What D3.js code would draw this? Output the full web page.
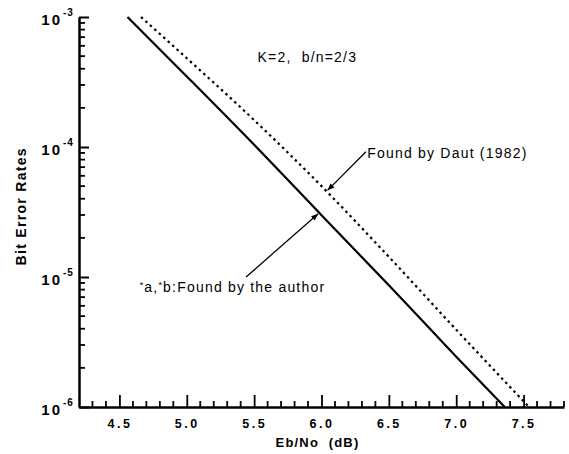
<!DOCTYPE html>
<html>
<head>
<meta charset="utf-8">
<script src="https://cdn.jsdelivr.net/npm/d3@7"></script>
<style>
  body { margin: 0; background: #fff; }
  text { font-family: "Liberation Sans", Arial, sans-serif; fill: #000; }
</style>
</head>
<body>
<div id="chart"></div>
<script>
// Data
var authorEbNo = [4.56, 5.0, 5.5, 6.0, 6.5, 7.0, 7.36];
var authorBER  = [1.0e-3, 3.49e-4, 1.04e-4, 2.99e-5, 8.63e-6, 2.44e-6, 1.0e-6];
var dautEbNo = [4.66, 5.0, 5.5, 6.0, 6.5, 7.0, 7.54];
var dautBER  = [1.0e-3, 4.82e-4, 1.61e-4, 5.0e-5, 1.43e-5, 3.93e-6, 1.0e-6];
var xMajorTicks = [4.5, 5.0, 5.5, 6.0, 6.5, 7.0, 7.5];
var xMinorTicks = [4.3, 4.4, 4.6, 4.7, 4.8, 4.9, 5.1, 5.2, 5.3, 5.4, 5.6, 5.7, 5.8, 5.9,
                   6.1, 6.2, 6.3, 6.4, 6.6, 6.7, 6.8, 6.9, 7.1, 7.2, 7.3, 7.4, 7.6, 7.7, 7.8];
var yDecades = [1e-3, 1e-4, 1e-5, 1e-6];
var yExponents = ["-3", "-4", "-5", "-6"];
var yMantissas = [2, 3, 4, 5, 6, 7, 8, 9];

var svgWidth = 569;
var svgHeight = 454;
var margin = { top: 17, right: 5, bottom: 47, left: 79 };
var width = svgWidth - margin.left - margin.right;
var height = svgHeight - margin.top - margin.bottom;

var svg = d3.select("#chart")
    .append("svg")
    .attr("width", svgWidth)
    .attr("height", svgHeight);

var chartGroup = svg.append("g")
    .attr("transform", `translate(${margin.left}, ${margin.top})`);

// scales
var xScale = d3.scaleLinear().domain([4.2, 7.8]).range([0, width]);
var yScale = d3.scaleLog().domain([1e-6, 1e-3]).range([height, 0]);

// minor x ticks (pointing up into the plot)
chartGroup.append("g").selectAll("line")
    .data(xMinorTicks)
    .enter()
    .append("line")
    .attr("x1", d => xScale(d))
    .attr("x2", d => xScale(d))
    .attr("y1", height)
    .attr("y2", height - 6)
    .attr("stroke", "black")
    .attr("stroke-width", 1.8);

var xAxis = chartGroup.append("g")
    .attr("transform", `translate(0, ${height})`)
    .call(d3.axisBottom(xScale).tickValues(xMajorTicks).tickSizeInner(-12).tickSizeOuter(0)
        .tickPadding(12).tickFormat(d3.format(".1f")));
xAxis.select(".domain").attr("stroke-width", 2.5);
xAxis.selectAll("line").attr("stroke-width", 1.8);
xAxis.selectAll("text")
    .style("font-size", "12.5px")
    .style("font-weight", "bold")
    .style("letter-spacing", "2.5px");

// minor y ticks (log 2..9 in each decade, pointing right)
var yMinor = [];
yDecades.slice(1).forEach(function(dec) {
    yMantissas.forEach(function(m) { yMinor.push(dec * m); });
});

chartGroup.append("g").selectAll("line")
    .data(yMinor)
    .enter()
    .append("line")
    .attr("x1", 0)
    .attr("x2", 6)
    .attr("y1", d => yScale(d))
    .attr("y2", d => yScale(d))
    .attr("stroke", "black")
    .attr("stroke-width", 1.8);

var yAxis = chartGroup.append("g")
    .call(d3.axisLeft(yScale).tickValues(yDecades).tickSizeInner(-10).tickSizeOuter(0).tickFormat(""));
yAxis.select(".domain").attr("stroke-width", 2.5);
yAxis.selectAll("line").attr("stroke-width", 2);

// decade labels: 10 with exponent
chartGroup.append("g").selectAll("text")
    .data(yDecades)
    .enter()
    .append("text")
    .attr("x", -17)
    .attr("y", d => yScale(d) + 8)
    .attr("text-anchor", "end")
    .style("font-size", "15px")
    .style("font-weight", "bold")
    .style("letter-spacing", "2px")
    .text("10");

chartGroup.append("g").selectAll("text")
    .data(yDecades)
    .enter()
    .append("text")
    .attr("x", -16)
    .attr("y", d => yScale(d) - 1)
    .style("font-size", "10px")
    .style("font-weight", "bold")
    .style("letter-spacing", "1px")
    .text((d, i) => yExponents[i]);

// curves
var authorData = authorEbNo.map((x, i) => ({ x: x, y: authorBER[i] }));
var dautData = dautEbNo.map((x, i) => ({ x: x, y: dautBER[i] }));

var lineGen = d3.line()
    .x(d => xScale(d.x))
    .y(d => yScale(d.y))
    .curve(d3.curveMonotoneX);

chartGroup.append("path")
    .datum(authorData)
    .attr("fill", "none")
    .attr("stroke", "black")
    .attr("stroke-width", 2.2)
    .attr("d", lineGen);

chartGroup.append("path")
    .datum(dautData)
    .attr("fill", "none")
    .attr("stroke", "black")
    .attr("stroke-width", 2.2)
    .attr("stroke-dasharray", "2.5,3.5")
    .attr("d", lineGen);

// value on a series at a given x (log interpolation)
function berAt(xs, ys, x) {
    var i = d3.bisectRight(xs, x) - 1;
    i = Math.max(0, Math.min(xs.length - 2, i));
    var t = (x - xs[i]) / (xs[i + 1] - xs[i]);
    return Math.pow(10, Math.log10(ys[i]) + t * (Math.log10(ys[i + 1]) - Math.log10(ys[i])));
}

// arrow head marker
svg.append("defs").append("marker")
    .attr("id", "arrow")
    .attr("viewBox", "0 0 10 10")
    .attr("refX", 10)
    .attr("refY", 5)
    .attr("markerWidth", 9)
    .attr("markerHeight", 7)
    .attr("markerUnits", "userSpaceOnUse")
    .attr("orient", "auto")
    .append("path")
    .attr("d", "M0,1 L10,5 L0,9 Z")
    .attr("fill", "black");

var arrows = [
    { from: [6.33, 9.2e-5], tipX: 6.03, xs: dautEbNo, ys: dautBER, nudge: 2 },
    { from: [5.44, 1.0e-5], tipX: 5.99, xs: authorEbNo, ys: authorBER, nudge: -2 }
];

chartGroup.selectAll(".arrow")
    .data(arrows)
    .enter()
    .append("line")
    .attr("class", "arrow")
    .attr("x1", d => xScale(d.from[0]))
    .attr("y1", d => yScale(d.from[1]))
    .attr("x2", d => xScale(d.tipX) + d.nudge)
    .attr("y2", d => yScale(berAt(d.xs, d.ys, d.tipX)))
    .attr("stroke", "black")
    .attr("stroke-width", 1.3)
    .attr("marker-end", "url(#arrow)");

// annotation text
chartGroup.append("text")
    .attr("x", xScale(5.525))
    .attr("y", yScale(4.5e-4))
    .attr("xml:space", "preserve")
    .style("white-space", "pre")
    .style("font-size", "14px")
    .style("letter-spacing", "1.2px")
    .text("K=2,  b/n=2/3");

chartGroup.append("text")
    .attr("x", xScale(6.34))
    .attr("y", yScale(8.2e-5))
    .style("font-size", "14px")
    .style("letter-spacing", "1.2px")
    .text("Found by Daut (1982)");

var authorText = chartGroup.append("text")
    .attr("x", xScale(4.65))
    .attr("y", yScale(7.7e-6))
    .style("font-size", "14px")
    .style("letter-spacing", "1.2px");
authorText.append("tspan").attr("dy", -4).style("font-size", "9px").text("*");
authorText.append("tspan").attr("dy", 4).text("a,");
authorText.append("tspan").attr("dy", -4).style("font-size", "9px").text("*");
authorText.append("tspan").attr("dy", 4).text("b:Found by the author");

// axis titles
chartGroup.append("text")
    .attr("transform", "rotate(-90)")
    .attr("x", -yScale(3.5e-5))
    .attr("y", -53)
    .attr("text-anchor", "middle")
    .style("font-size", "14px")
    .style("font-weight", "bold")
    .style("letter-spacing", "1.3px")
    .text("Bit Error Rates");

chartGroup.append("text")
    .attr("x", xScale(6.0) - 4)
    .attr("y", height + 40)
    .attr("text-anchor", "middle")
    .attr("xml:space", "preserve")
    .style("white-space", "pre")
    .style("font-size", "13px")
    .style("font-weight", "bold")
    .style("letter-spacing", "1.2px")
    .text("Eb/No  (dB)");
</script>
</body>
</html>
